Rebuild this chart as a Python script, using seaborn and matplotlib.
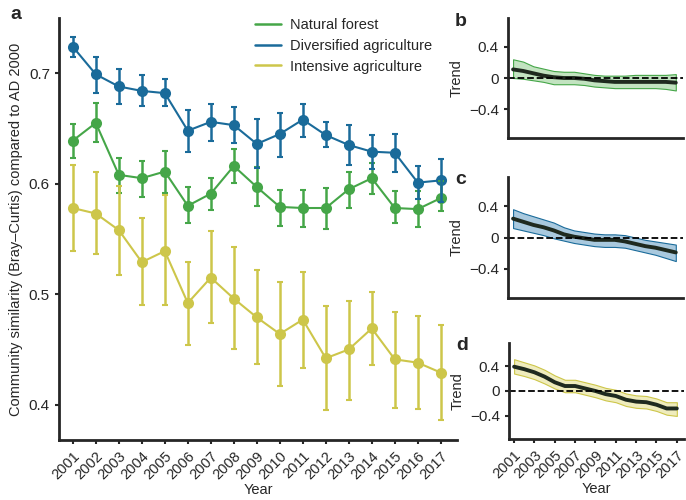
import numpy as np
import pandas as pd
import seaborn as sns
import matplotlib.pyplot as plt
from matplotlib.lines import Line2D

years = list(range(2001, 2018))

# panel a: mean similarity and error bar limits
forest = [0.639, 0.655, 0.608, 0.605, 0.611, 0.580, 0.591, 0.616, 0.597, 0.579,
          0.578, 0.578, 0.595, 0.605, 0.578, 0.577, 0.587]
forest_hi = [0.654, 0.673, 0.623, 0.621, 0.630, 0.597, 0.605, 0.631, 0.615, 0.594,
             0.594, 0.596, 0.611, 0.619, 0.593, 0.593, 0.602]
forest_lo = [0.623, 0.638, 0.592, 0.588, 0.592, 0.564, 0.576, 0.601, 0.580, 0.562,
             0.561, 0.559, 0.578, 0.591, 0.564, 0.561, 0.575]

divers = [0.724, 0.699, 0.688, 0.684, 0.682, 0.648, 0.656, 0.653, 0.636, 0.645,
          0.658, 0.644, 0.635, 0.629, 0.628, 0.601, 0.603]
divers_hi = [0.733, 0.715, 0.704, 0.698, 0.695, 0.667, 0.672, 0.669, 0.659, 0.664,
             0.672, 0.656, 0.653, 0.644, 0.645, 0.616, 0.622]
divers_lo = [0.715, 0.682, 0.672, 0.670, 0.670, 0.629, 0.639, 0.637, 0.614, 0.624,
             0.642, 0.633, 0.617, 0.613, 0.611, 0.586, 0.583]

intens = [0.578, 0.573, 0.558, 0.529, 0.539, 0.492, 0.515, 0.496, 0.479, 0.464,
          0.477, 0.442, 0.450, 0.469, 0.441, 0.438, 0.429]
intens_hi = [0.617, 0.611, 0.598, 0.569, 0.590, 0.529, 0.557, 0.543, 0.522, 0.511,
             0.520, 0.489, 0.494, 0.502, 0.484, 0.480, 0.472]
intens_lo = [0.539, 0.536, 0.517, 0.490, 0.490, 0.454, 0.474, 0.450, 0.437, 0.417,
             0.433, 0.395, 0.404, 0.436, 0.397, 0.396, 0.386]

# panels b-d: trend and band
trend_b = [0.11, 0.09, 0.06, 0.03, 0.01, 0.0, 0.0, -0.01, -0.03, -0.04, -0.05,
           -0.05, -0.05, -0.05, -0.05, -0.05, -0.06]
trend_b_hi = [0.24, 0.21, 0.15, 0.12, 0.09, 0.08, 0.08, 0.06, 0.04, 0.03, 0.03,
              0.03, 0.04, 0.04, 0.04, 0.04, 0.05]
trend_b_lo = [0.0, -0.01, -0.03, -0.05, -0.08, -0.08, -0.08, -0.09, -0.11, -0.12,
              -0.13, -0.13, -0.13, -0.13, -0.13, -0.14, -0.16]

trend_c = [0.24, 0.20, 0.16, 0.13, 0.09, 0.04, 0.01, -0.01, -0.03, -0.03, -0.03,
           -0.05, -0.08, -0.11, -0.13, -0.16, -0.19]
trend_c_hi = [0.36, 0.31, 0.27, 0.23, 0.19, 0.13, 0.09, 0.07, 0.05, 0.04, 0.04,
              0.03, 0.00, -0.03, -0.05, -0.07, -0.09]
trend_c_lo = [0.12, 0.09, 0.06, 0.03, -0.01, -0.04, -0.07, -0.09, -0.11, -0.12,
              -0.12, -0.13, -0.16, -0.19, -0.22, -0.26, -0.30]

trend_d = [0.39, 0.35, 0.30, 0.23, 0.14, 0.08, 0.08, 0.04, 0.00, -0.05, -0.08,
           -0.14, -0.17, -0.18, -0.22, -0.28, -0.28]
trend_d_hi = [0.51, 0.46, 0.41, 0.34, 0.25, 0.18, 0.18, 0.14, 0.10, 0.05, 0.02,
              -0.04, -0.07, -0.08, -0.12, -0.18, -0.18]
trend_d_lo = [0.28, 0.24, 0.19, 0.12, 0.04, -0.02, -0.02, -0.06, -0.10, -0.15,
              -0.18, -0.24, -0.27, -0.28, -0.32, -0.38, -0.40]

names = ['Natural forest', 'Diversified agriculture', 'Intensive agriculture']
colors = ['#45a648', '#1a6b9a', '#cdc64a']
fills = ['#c2e3c0', '#a9c9de', '#efecbd']

sns.set_style('ticks')
plt.rcParams['font.family'] = ['Liberation Sans', 'DejaVu Sans']
plt.rcParams['font.size'] = 10.5
plt.rcParams['axes.linewidth'] = 2
plt.rcParams['xtick.major.width'] = 1.5
plt.rcParams['ytick.major.width'] = 1.5
plt.rcParams['xtick.major.size'] = 3
plt.rcParams['ytick.major.size'] = 3

fs = 10.5
fig = plt.figure(figsize=(6.86, 5.0), dpi=100)
ax = fig.add_axes([0.086, 0.12, 0.58, 0.844])

df = pd.DataFrame({
    'Year': years * 3,
    'sim': forest + divers + intens,
    'group': [names[0]] * 17 + [names[1]] * 17 + [names[2]] * 17,
})
sns.lineplot(data=df, x='Year', y='sim', hue='group', hue_order=names,
             palette=colors, marker='o', markersize=8, markeredgewidth=0,
             linewidth=1.5, ax=ax, legend=False)
for m, hi, lo, c in [(forest, forest_hi, forest_lo, colors[0]),
                     (divers, divers_hi, divers_lo, colors[1]),
                     (intens, intens_hi, intens_lo, colors[2])]:
    m = np.array(m)
    ax.errorbar(years, m, yerr=[m - np.array(lo), np.array(hi) - m], fmt='none',
                ecolor=c, elinewidth=1.8, capsize=2.5, capthick=1.5)

ax.set_xlim(2000.4, 2017.7)
ax.set_ylim(0.368, 0.75)
ax.set_yticks([0.4, 0.5, 0.6, 0.7])
ax.set_yticklabels(['0.4', '0.5', '0.6', '0.7'], fontsize=11)
ax.set_xticks(years)
ax.set_xticklabels([str(y) for y in years], rotation=45, ha='right',
                   rotation_mode='anchor', fontsize=fs)
ax.set_xlabel('Year', fontsize=fs, labelpad=1)
ax.set_ylabel('Community similarity (Bray\u2013Curtis) compared to AD 2000', fontsize=fs)
sns.despine(ax=ax)
handles = [Line2D([], [], color=c, linewidth=1.8) for c in colors]
ax.legend(handles, names, loc='upper left', bbox_to_anchor=(0.46, 1.03),
          frameon=False, handlelength=1.8, handletextpad=0.6, fontsize=fs,
          labelspacing=0.45)
fig.text(0.015, 0.962, 'a', fontsize=14, fontweight='bold')

panels = [
    ([0.7405, 0.724, 0.255, 0.24], trend_b, trend_b_lo, trend_b_hi, 0, 'b'),
    ([0.7405, 0.404, 0.255, 0.242], trend_c, trend_c_lo, trend_c_hi, 1, 'c'),
    ([0.742, 0.122, 0.255, 0.192], trend_d, trend_d_lo, trend_d_hi, 2, 'd'),
]
for rect, tr, lo, hi, k, lab in panels:
    axp = fig.add_axes(rect)
    axp.fill_between(years, lo, hi, color=fills[k], edgecolor=colors[k], linewidth=0.8)
    sns.lineplot(x=years, y=tr, color='#1f2a1f', linewidth=2.8, ax=axp)
    axp.axhline(0, color='black', linestyle='--', linewidth=1.3)
    axp.set_xlim(2000.5, 2017.7)
    axp.set_ylim(-0.77, 0.77)
    axp.set_yticks([-0.4, 0, 0.4])
    axp.set_yticklabels(['\u22120.4', '0', '0.4'], fontsize=11)
    axp.set_ylabel('Trend', fontsize=fs)
    sns.despine(ax=axp)
    if lab == 'd':
        axp.set_xticks(years[::2])
        axp.set_xticklabels([str(y) for y in years[::2]], rotation=45, ha='right',
                            rotation_mode='anchor', fontsize=fs)
        axp.set_xlabel('Year', fontsize=fs, labelpad=1)
    else:
        axp.set_xticks([])
    fig.text(rect[0] - 0.077, rect[1] + rect[3] - 0.015, lab, fontsize=14,
             fontweight='bold')

fig.savefig('out.png', dpi=100)
